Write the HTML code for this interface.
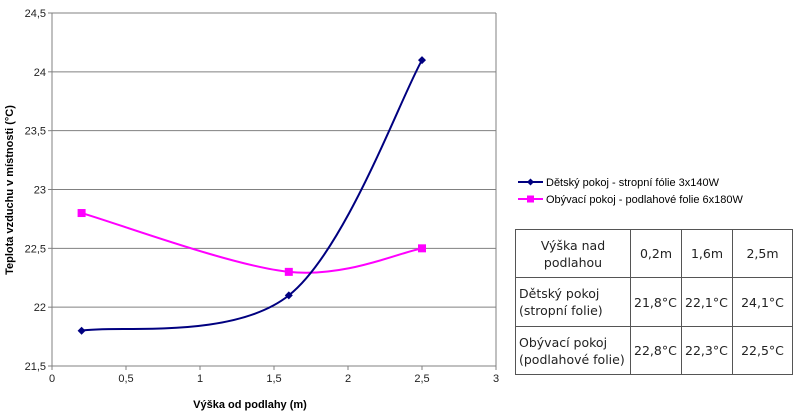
<!DOCTYPE html>
<html><head><meta charset="utf-8"><style>
body{margin:0;background:#fff;width:800px;height:415px;overflow:hidden;font-family:"Liberation Sans",sans-serif}
svg{position:absolute;left:0;top:0}
table{position:absolute;left:515px;top:229px;border-collapse:collapse;font-family:"DejaVu Sans","Liberation Sans",sans-serif;font-size:12.5px;color:#222}
td{border:1px solid #555;padding:0 3px;line-height:17px}
</style></head><body>
<svg width="800" height="415">
<g id="grid"></g><g id="axes"></g><g id="series"></g>
<text x="250" y="408" font-size="11" font-weight="bold" text-anchor="middle">Výška od podlahy (m)</text>
<text transform="translate(13,190) rotate(-90)" font-size="11" font-weight="bold" text-anchor="middle">Teplota vzduchu v místnosti (°C)</text>
<g font-size="11">
<line x1="518" y1="182" x2="543" y2="182" stroke="#000080" stroke-width="2"/>
<path d="M530.5 178.5L534 182L530.5 185.5L527 182Z" fill="#000080"/>
<text x="546" y="186">Dětský pokoj - stropní fólie 3x140W</text>
<line x1="518" y1="199" x2="543" y2="199" stroke="#ff00ff" stroke-width="2"/>
<rect x="527" y="195.5" width="7" height="7" fill="#ff00ff"/>
<text x="546" y="203">Obývací pokoj - podlahové folie 6x180W</text>
</g>
</svg>
<table>
<tr style="height:48px"><td style="width:108px;text-align:center">Výška nad<br>podlahou</td><td style="width:44px;text-align:center">0,2m</td><td style="width:44px;text-align:center">1,6m</td><td style="width:53px;text-align:center">2,5m</td></tr>
<tr style="height:49px"><td>Dětský pokoj<br>(stropní folie)</td><td>21,8°C</td><td>22,1°C</td><td style="text-align:center">24,1°C</td></tr>
<tr style="height:48px"><td>Obývací pokoj<br>(podlahové folie)</td><td>22,8°C</td><td>22,3°C</td><td style="text-align:center">22,5°C</td></tr>
</table>
<script>
const xValues=[0.2,1.6,2.5];
const detsky=[21.8,22.1,24.1];
const obyvaci=[22.8,22.3,22.5];
const xTicks=[0,0.5,1,1.5,2,2.5,3];
const yTicks=[21.5,22,22.5,23,23.5,24,24.5];
const X0=52,X1=496,Y0=366,Y1=13;
const sx=v=>X0+(v-0)/3*(X1-X0);
const sy=v=>Y0-(v-21.5)/3*(Y0-Y1);
const NS='http://www.w3.org/2000/svg';
function mk(t,a,p){const e=document.createElementNS(NS,t);for(const k in a)e.setAttribute(k,a[k]);p.appendChild(e);return e;}
const grid=document.getElementById('grid'),axes=document.getElementById('axes'),ser=document.getElementById('series');
yTicks.forEach(v=>{
 if(v>21.5){const l=mk('line',{x1:X0,x2:X1,y1:sy(v),y2:sy(v),stroke:'#808080','stroke-width':1},grid);
 
 }
 mk('line',{x1:X0-4,x2:X0,y1:sy(v),y2:sy(v),stroke:'#808080'},axes);
 const t=mk('text',{x:X0-6,y:sy(v)+4,'font-size':11,'text-anchor':'end',fill:'#222'},axes);t.textContent=String(v).replace('.',',');
 
 
});
xTicks.forEach(v=>{
 mk('line',{x1:sx(v),x2:sx(v),y1:Y0,y2:Y0+4,stroke:'#808080'},axes);
 const t=mk('text',{x:sx(v),y:Y0+16,'font-size':11,'text-anchor':'middle',fill:'#222'},axes);t.textContent=String(v).replace('.',',');
 
 
});
mk('line',{x1:X0,x2:X0,y1:Y1,y2:Y0,stroke:'#808080'},axes);
mk('line',{x1:X0,x2:X1,y1:Y0,y2:Y0,stroke:'#808080'},axes);
mk('line',{x1:X1,x2:X1,y1:Y1,y2:Y0,stroke:'#808080'},axes);
function smooth(pts){let d='M'+pts[0][0]+' '+pts[0][1];
 for(let i=0;i<pts.length-1;i++){const p0=pts[i-1]||pts[i],p1=pts[i],p2=pts[i+1],p3=pts[i+2]||p2;const k=0.5/3*2;
 d+=' C'+(p1[0]+(p2[0]-p0[0])*k/2)+' '+(p1[1]+(p2[1]-p0[1])*k/2)+' '+(p2[0]-(p3[0]-p1[0])*k/2)+' '+(p2[1]-(p3[1]-p1[1])*k/2)+' '+p2[0]+' '+p2[1];}
 return d;}
function draw(vals,color,name,marker){
 const pts=xValues.map((x,i)=>[sx(x),sy(vals[i])]);
 const p=mk('path',{d:smooth(pts),fill:'none',stroke:color,'stroke-width':2},ser);
 
 
 pts.forEach(q=>{let m;
  if(marker==='d')m=mk('path',{d:`M${q[0]} ${q[1]-4}L${q[0]+4} ${q[1]}L${q[0]} ${q[1]+4}L${q[0]-4} ${q[1]}Z`,fill:color},ser);
  else m=mk('rect',{x:q[0]-4,y:q[1]-4,width:8,height:8,fill:color},ser);
  
  });
}
draw(obyvaci,'#ff00ff','obyvaci','s');
draw(detsky,'#000080','detsky','d');
</script>
</body></html>
